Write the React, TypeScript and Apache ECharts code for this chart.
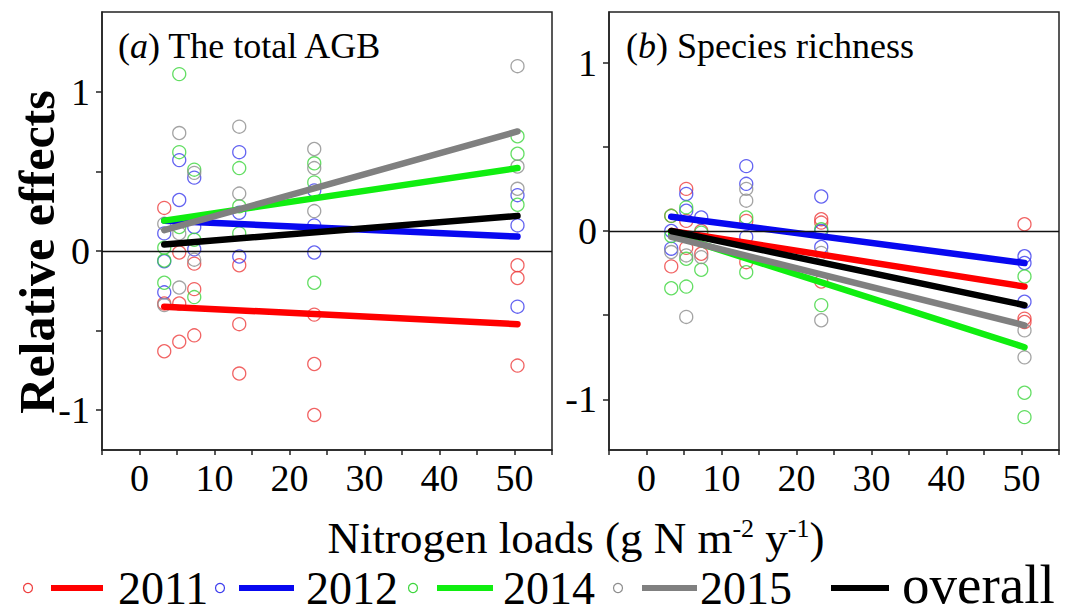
import React, { useEffect, useRef } from 'react';
import * as echarts from 'echarts';

// ---------- data ----------
const YEARS = ['2011', '2012', '2014', '2015'];
const X_TICK_LABELS = [0, 10, 20, 30, 40, 50];
const Y_TICKS_A = [-1, -0.5, 0, 0.5, 1];
const Y_LABELS_A = [-1, 0, 1];
const Y_TICKS_B = [-1, -0.5, 0, 0.5, 1];
const Y_LABELS_B = [-1, 0, 1];

// (a) The total AGB – observed relative effects [N load, effect]
const agb2011: number[][] = [
  [3.3, 0.27], [3.3, -0.33], [3.3, -0.63], [5.3, -0.01], [5.3, -0.33], [5.3, -0.57],
  [7.3, -0.08], [7.3, -0.24], [7.3, -0.53], [13.3, -0.09], [13.3, -0.46], [13.3, -0.77],
  [23.3, -0.4], [23.3, -0.71], [23.3, -1.03], [50.4, -0.09], [50.4, -0.17], [50.4, -0.72],
];
const agb2012: number[][] = [
  [3.3, 0.11], [3.3, -0.065], [3.3, -0.26], [5.3, 0.57], [5.3, 0.32], [7.3, 0.46],
  [7.3, 0.15], [7.3, 0.01], [13.3, 0.62], [13.3, 0.24], [13.3, -0.035], [23.3, 0.38],
  [23.3, 0.16], [23.3, -0.01], [50.4, 0.35], [50.4, 0.16], [50.4, -0.35],
];
const agb2014: number[][] = [
  [3.3, 0.02], [3.3, -0.06], [3.3, -0.2], [5.3, 1.11], [5.3, 0.62], [5.3, 0.15],
  [7.3, 0.51], [7.3, 0.07], [7.3, -0.29], [13.3, 0.52], [13.3, 0.28], [13.3, 0.11],
  [23.3, 0.55], [23.3, 0.43], [23.3, -0.2], [50.4, 0.72], [50.4, 0.61], [50.4, 0.29],
];
const agb2015: number[][] = [
  [3.3, 0.17], [3.3, -0.34], [5.3, 0.74], [5.3, 0.11], [5.3, -0.23], [7.3, 0.49],
  [7.3, -0.055], [13.3, 0.78], [13.3, 0.36], [23.3, 0.64], [23.3, 0.52], [23.3, 0.25],
  [50.4, 1.16], [50.4, 0.53], [50.4, 0.39],
];
// fitted lines (endpoints)
const agbFit2011 = [[3.3, -0.35], [50.4, -0.46]];
const agbFit2012 = [[3.3, 0.19], [50.4, 0.09]];
const agbFit2014 = [[3.3, 0.19], [50.4, 0.52]];
const agbFit2015 = [[3.3, 0.13], [50.4, 0.75]];
const agbFitAll = [[3.3, 0.04], [50.4, 0.22]];

// (b) Species richness
const sr2011: number[][] = [
  [3.3, 0.09], [3.3, -0.21], [5.3, 0.25], [5.3, 0.06], [5.3, -0.1], [7.3, 0.0],
  [7.3, -0.135], [13.3, 0.06], [13.3, -0.185], [23.3, 0.07], [23.3, 0.05], [23.3, -0.3],
  [50.4, 0.04], [50.4, -0.52], [50.4, -0.54],
];
const sr2012: number[][] = [
  [3.3, 0.0], [3.3, -0.105], [5.3, 0.22], [5.3, 0.12], [7.3, 0.08], [13.3, 0.385],
  [13.3, 0.28], [13.3, -0.035], [23.3, 0.205], [23.3, 0.0], [23.3, -0.095],
  [50.4, -0.15], [50.4, -0.19], [50.4, -0.42],
];
const sr2014: number[][] = [
  [3.3, 0.09], [3.3, -0.03], [3.3, -0.34], [5.3, 0.14], [5.3, -0.165], [5.3, -0.33],
  [7.3, -0.01], [7.3, -0.23], [13.3, 0.08], [13.3, -0.245], [23.3, 0.01], [23.3, -0.44],
  [50.4, -0.27], [50.4, -0.96], [50.4, -1.105],
];
const sr2015: number[][] = [
  [3.3, -0.125], [5.3, -0.145], [5.3, -0.51], [7.3, -0.155], [13.3, 0.25], [13.3, 0.18],
  [23.3, -0.13], [23.3, -0.53], [50.4, -0.59], [50.4, -0.75],
];
const srFit2011 = [[3.3, 0.0], [50.4, -0.33]];
const srFit2012 = [[3.3, 0.085], [50.4, -0.19]];
const srFit2014 = [[3.3, -0.02], [50.4, -0.69]];
const srFit2015 = [[3.3, -0.035], [50.4, -0.56]];
const srFitAll = [[3.3, 0.0], [50.4, -0.44]];

// ---------- styles ----------
const FONT = '"Liberation Serif", "Times New Roman", serif';
const CIRCLE_COLORS = ['#ee3c3c', '#3c3cee', '#3cd63c', '#8c8c8c'];
const LINE_COLORS = ['#ff0000', '#0808f0', '#10ee10', '#808080'];
const OVERALL_COLOR = '#000000';

function panelSeries(
  gi: number,
  pts: number[][][],
  fits: number[][][],
  fitAll: number[][],
) {
  const s: any[] = [];
  pts.forEach((p, i) => {
    s.push({
      type: 'scatter',
      name: YEARS[i],
      xAxisIndex: gi,
      yAxisIndex: gi,
      data: p,
      symbol: 'circle',
      symbolSize: 13,
      itemStyle: { color: 'rgba(0,0,0,0)', borderColor: CIRCLE_COLORS[i], borderWidth: 1.3 },
      silent: true,
      z: 2,
      ...(i === 0
        ? {
            markLine: {
              silent: true,
              symbol: 'none',
              label: { show: false },
              lineStyle: { color: '#111', width: 1.4, type: 'solid' },
              data: [{ yAxis: 0 }],
            },
          }
        : {}),
    });
  });
  fits.forEach((f, i) => {
    s.push({
      type: 'line',
      xAxisIndex: gi,
      yAxisIndex: gi,
      data: f,
      showSymbol: false,
      symbol: 'none',
      lineStyle: { color: LINE_COLORS[i], width: 6.5, cap: 'round' },
      silent: true,
      z: 3 + i,
    });
  });
  s.push({
    type: 'line',
    xAxisIndex: gi,
    yAxisIndex: gi,
    data: fitAll,
    showSymbol: false,
    symbol: 'none',
    lineStyle: { color: OVERALL_COLOR, width: 6.5, cap: 'round' },
    silent: true,
    z: 8,
  });
  return s;
}

function xAxisFor(gi: number) {
  return {
    type: 'value',
    gridIndex: gi,
    min: -5,
    max: 55,
    interval: 5,
    axisLine: { show: true, onZero: false, lineStyle: { color: '#222', width: 1.5 } },
    axisTick: { show: true, inside: false, length: 5, lineStyle: { color: '#222', width: 1.5 } },
    axisLabel: {
      formatter: (v: number) => (X_TICK_LABELS.includes(v) ? String(v) : ''),
      fontFamily: FONT,
      fontSize: 38,
      color: '#000',
      margin: 9,
      showMinLabel: true,
      showMaxLabel: true,
    },
    splitLine: { show: false },
  };
}

function yAxisFor(gi: number, min: number, max: number, ticks: number[], labels: number[]) {
  return {
    type: 'value',
    gridIndex: gi,
    min,
    max,
    axisLine: { show: true, onZero: false, lineStyle: { color: '#222', width: 1.5 } },
    axisTick: { show: true, inside: false, length: 6, customValues: ticks, lineStyle: { color: '#222', width: 1.5 } },
    axisLabel: {
      customValues: labels,
      formatter: (v: number) => String(v),
      fontFamily: FONT,
      fontSize: 38,
      color: '#000',
      margin: 12,
    },
    splitLine: { show: false },
  };
}

function legendGraphics() {
  const cy = 588;
  const items = [
    { circle: 28, l1: 51, l2: 103, tx: 118, label: YEARS[0], c: 0 },
    { circle: 220, l1: 239, l2: 294, tx: 306, label: YEARS[1], c: 1 },
    { circle: 413, l1: 437, l2: 493, tx: 503, label: YEARS[2], c: 2 },
    { circle: 618, l1: 642, l2: 697, tx: 700, label: YEARS[3], c: 3 },
  ];
  const g: any[] = [];
  items.forEach((it) => {
    g.push({
      type: 'circle',
      shape: { cx: it.circle, cy: cy, r: 4.5 },
      style: { fill: 'none', stroke: CIRCLE_COLORS[it.c], lineWidth: 1.2 },
    });
    g.push({
      type: 'line',
      shape: { x1: it.l1, y1: cy, x2: it.l2, y2: cy },
      style: { stroke: LINE_COLORS[it.c], lineWidth: 6 },
    });
    g.push({
      type: 'text',
      x: it.tx,
      y: cy,
      style: {
        text: it.label,
        fontFamily: FONT,
        fontSize: 46,
        fill: '#000',
        align: 'left',
        verticalAlign: 'middle',
        textAlign: 'left',
        textVerticalAlign: 'middle',
      },
    });
  });
  g.push({
    type: 'line',
    shape: { x1: 831, y1: cy, x2: 889, y2: cy },
    style: { stroke: OVERALL_COLOR, lineWidth: 6 },
  });
  g.push({
    type: 'text',
    x: 902,
    y: cy - 4,
    style: {
      text: 'overall',
      fontFamily: FONT,
      fontSize: 55,
      fill: '#000',
      align: 'left',
      verticalAlign: 'middle',
      textAlign: 'left',
      textVerticalAlign: 'middle',
    },
  });
  return g;
}

export default function App() {
  const ref = useRef<HTMLDivElement>(null);
  useEffect(() => {
    if (!ref.current) return;
    const chart = echarts.init(ref.current, null, { renderer: 'svg' });
    const option: any = {
      animation: false,
      backgroundColor: '#ffffff',
      grid: [
        { left: 102, top: 12, width: 450, height: 438, show: true, borderColor: '#222', borderWidth: 1.5, backgroundColor: 'rgba(0,0,0,0)' },
        { left: 609, top: 12, width: 450, height: 438, show: true, borderColor: '#222', borderWidth: 1.5, backgroundColor: 'rgba(0,0,0,0)' },
      ],
      xAxis: [xAxisFor(0), xAxisFor(1)],
      yAxis: [
        yAxisFor(0, -1.25, 1.5, Y_TICKS_A, Y_LABELS_A),
        yAxisFor(1, -1.3, 1.3, Y_TICKS_B, Y_LABELS_B),
      ],
      series: [
        ...panelSeries(0, [agb2011, agb2012, agb2014, agb2015], [agbFit2011, agbFit2012, agbFit2014, agbFit2015], agbFitAll),
        ...panelSeries(1, [sr2011, sr2012, sr2014, sr2015], [srFit2011, srFit2012, srFit2014, srFit2015], srFitAll),
      ],
      graphic: [
        {
          type: 'text',
          x: 118,
          y: 46,
          style: {
            text: '({it|a}) The total AGB',
            rich: { it: { fontStyle: 'italic', fontFamily: FONT, fontSize: 36, fill: '#000' } },
            fontFamily: FONT,
            fontSize: 36,
            fill: '#000',
            align: 'left',
            verticalAlign: 'middle',
            textAlign: 'left',
            textVerticalAlign: 'middle',
          },
        },
        {
          type: 'text',
          x: 626,
          y: 46,
          style: {
            text: '({it|b}) Species richness',
            rich: { it: { fontStyle: 'italic', fontFamily: FONT, fontSize: 36, fill: '#000' } },
            fontFamily: FONT,
            fontSize: 36,
            fill: '#000',
            align: 'left',
            verticalAlign: 'middle',
            textAlign: 'left',
            textVerticalAlign: 'middle',
          },
        },
        {
          type: 'text',
          x: 37,
          y: 252,
          rotation: Math.PI / 2,
          style: {
            text: 'Relative effects',
            fontFamily: FONT,
            fontWeight: 'bold',
            fontSize: 50,
            fill: '#000',
            align: 'center',
            verticalAlign: 'middle',
            textAlign: 'center',
            textVerticalAlign: 'middle',
          },
        },
        {
          type: 'text',
          x: 576,
          y: 538,
          style: {
            text: 'Nitrogen loads (g N m{sup|-2} y{sup|-1})',
            rich: { sup: { fontFamily: FONT, fontSize: 26, fill: '#000', verticalAlign: 'top' } },
            fontFamily: FONT,
            fontSize: 45,
            fill: '#000',
            align: 'center',
            verticalAlign: 'middle',
            textAlign: 'center',
            textVerticalAlign: 'middle',
          },
        },
        ...legendGraphics(),
      ],
    };
    chart.setOption(option);
    return () => chart.dispose();
  }, []);
  return (
    <div
      ref={ref}
      style={{ position: 'absolute', left: 0, top: 0, width: 1077, height: 613, background: '#fff' }}
    />
  );
}
